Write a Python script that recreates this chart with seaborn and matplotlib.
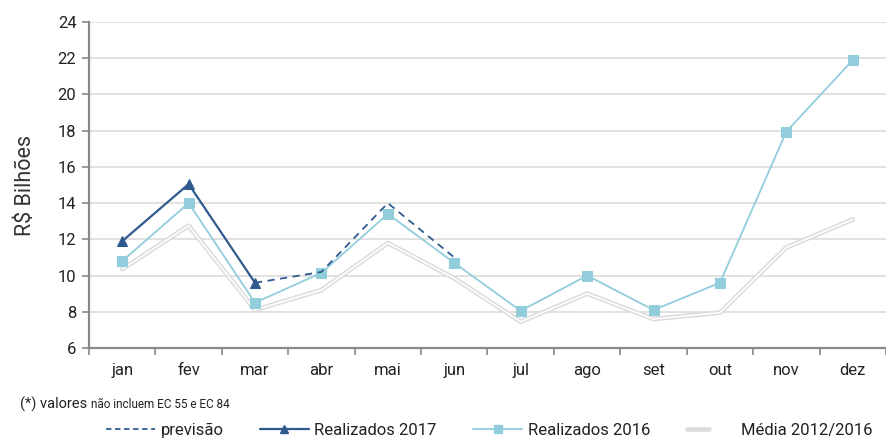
import numpy as np
import matplotlib
matplotlib.use('Agg')
import matplotlib.pyplot as plt
from matplotlib.lines import Line2D
from matplotlib.legend_handler import HandlerTuple
import seaborn as sns

# Dados (R$ bilhões)
meses = ['jan', 'fev', 'mar', 'abr', 'mai', 'jun', 'jul', 'ago', 'set', 'out', 'nov', 'dez']
realizados_2016 = [10.8, 14.0, 8.5, 10.15, 13.4, 10.7, 8.05, 10.0, 8.1, 9.6, 17.95, 21.9]
media_2012_2016 = [10.35, 12.75, 8.1, 9.2, 11.8, 9.85, 7.45, 9.0, 7.6, 7.95, 11.55, 13.1]
realizados_2017 = [11.9, 15.05, 9.6]
previsao_meses = ['mar', 'abr', 'mai', 'jun']
previsao = [9.6, 10.2, 14.0, 11.0]

azul_escuro = '#2f5a8e'
azul_claro = '#92cddc'
cinza = '#dcdcdc'

sns.set_theme(style='white')
plt.rcParams['font.family'] = ['Roboto', 'DejaVu Sans']

fig = plt.figure(figsize=(8.86, 4.38), dpi=100)
ax = fig.add_axes([89 / 886, 90 / 438, 797 / 886, 326 / 438])

x_all = np.arange(len(meses))
x_2017 = x_all[:len(realizados_2017)]
x_prev = [meses.index(m) for m in previsao_meses]

# Média: linha dupla (contorno cinza com miolo branco)
sns.lineplot(x=x_all, y=media_2012_2016, ax=ax, color=cinza, linewidth=3.4, zorder=2)
sns.lineplot(x=x_all, y=media_2012_2016, ax=ax, color='white', linewidth=1.2, zorder=2.1)
sns.lineplot(x=x_all, y=realizados_2016, ax=ax, color=azul_claro, linewidth=1.3,
             marker='s', markersize=6.5, markeredgecolor=azul_claro, zorder=3)
sns.lineplot(x=x_prev, y=previsao, ax=ax, color=azul_escuro, linewidth=1.3, zorder=4)
ax.lines[-1].set_linestyle((0, (4, 3)))
sns.lineplot(x=x_2017, y=realizados_2017, ax=ax, color=azul_escuro, linewidth=1.6,
             marker='^', markersize=7, markeredgecolor=azul_escuro, zorder=5)

# Eixos
ax.set_ylim(6, 24)
ax.set_yticks(np.arange(6, 25, 2))
ax.set_xlim(-0.5, -0.5 + 797 / 67.3)
ax.set_xticks(x_all)
ax.set_xticklabels(meses)
ax.set_xticks(np.arange(-0.5, 12, 1), minor=True)
ax.tick_params(axis='x', which='major', bottom=False, length=0, pad=11, labelsize=12,
               labelcolor='#222222')
ax.tick_params(axis='x', which='minor', bottom=True, length=5, width=1.2, color='#898989',
               direction='out')
ax.tick_params(axis='y', which='major', left=True, length=5, width=1.2, color='#898989',
               direction='out', labelsize=12, labelcolor='#222222', pad=4)

ax.grid(axis='y', color=cinza, linewidth=1.2, zorder=0)
ax.set_axisbelow(True)
for s in ['top', 'right']:
    ax.spines[s].set_visible(False)
for s in ['left', 'bottom']:
    ax.spines[s].set_color('#898989')
    ax.spines[s].set_linewidth(1.6)

ax.set_xlabel('')
ax.set_ylabel('R$ Bilhões', fontsize=15.5, color='#333333', labelpad=16)

# Nota
nota = fig.text(20 / 886, 1 - 404 / 438, '(*) valores', fontsize=10.5, color='#222222',
                va='center')
ax.annotate('não incluem EC 55 e EC 84', xy=(1, 0.45), xycoords=nota,
            xytext=(3, 0), textcoords='offset points', fontsize=8.5, color='#222222',
            va='center', ha='left', annotation_clip=False)

# Legenda
h_prev = Line2D([], [], color=azul_escuro, linewidth=1.3, linestyle=(0, (3, 2)))
h_2017 = Line2D([], [], color=azul_escuro, linewidth=1.6, marker='^', markersize=6)
h_2016 = Line2D([], [], color=azul_claro, linewidth=1.3, marker='s', markersize=6)
h_med = (Line2D([], [], color=cinza, linewidth=3.4), Line2D([], [], color='white', linewidth=1.2))
fig.legend([h_prev, h_2017, h_2016, h_med],
           ['previsão', 'Realizados 2017', 'Realizados 2016', 'Média 2012/2016'],
           handler_map={tuple: HandlerTuple(ndivide=None)},
           loc='center right', bbox_to_anchor=(884 / 886, 1 - 430 / 438), ncol=4,
           frameon=False, fontsize=12, handlelength=2.9, handletextpad=0.35,
           columnspacing=2.2, borderpad=0.2, labelcolor='#222222')

fig.savefig('out.png', dpi=100)
